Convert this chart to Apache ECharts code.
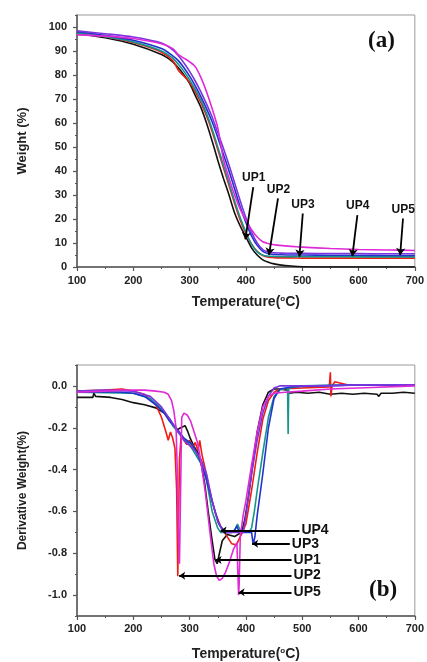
<!DOCTYPE html>
<html>
<head>
<meta charset="utf-8">
<script src="https://cdn.jsdelivr.net/npm/echarts@6/dist/echarts.min.js"></script>
<style>
html, body { margin: 0; padding: 0; background: #fff; }
#main { width: 427px; height: 662px; }
</style>
</head>
<body>
<div id="main"></div>
<script>
// (a) TGA: weight (%) vs temperature
var tgaTemp = [100, 150, 200, 250, 270, 280, 290, 300, 310, 320, 330, 340, 350, 360, 370, 380, 390, 400, 410, 420, 430, 440, 450, 460, 480, 500, 550, 600, 650, 700];
var tgaUP1 = [97.3, 95.5, 92.8, 88.5, 85.5, 83, 80, 76.5, 71.5, 66.5, 60, 52.5, 44.5, 37, 30, 22.5, 17, 12.5, 8, 5, 3, 2, 1.3, 0.9, 0.4, 0.1, 0, 0, 0, 0];
var tgaUP2 = [97.6, 96, 93.5, 89.5, 86, 82, 79.5, 77, 73, 68.5, 63, 56.5, 49, 41.5, 34, 26.5, 19.5, 14, 9.5, 6.5, 4.8, 4.1, 3.9, 3.8, 3.8, 3.7, 3.7, 3.7, 3.7, 3.7];
var tgaUP3 = [98, 96.5, 94.5, 91, 88, 86, 83, 79.5, 75.5, 71, 66, 60.5, 54, 47, 40, 32.5, 25, 18.5, 13, 9, 6.5, 5.5, 5.2, 5.1, 5, 5, 4.9, 4.9, 4.8, 4.8];
var tgaUP4 = [97.5, 96, 93.8, 90, 87, 84.5, 81.5, 78, 74, 69.5, 64, 57.5, 50, 42.5, 35, 27.5, 20.5, 14.5, 9.5, 6.3, 4.9, 4.5, 4.4, 4.3, 4.3, 4.3, 4.3, 4.2, 4.2, 4.2];
var tgaUP5 = [96.7, 96.2, 95.2, 93, 91, 88.5, 87, 85.5, 83.5, 79, 73, 66, 58, 45, 37, 30, 24, 19.5, 15.5, 12.5, 10.5, 9.8, 9.3, 9, 8.6, 8.3, 7.7, 7.3, 7.1, 6.9];
var tgaViolet = [98.4, 97.2, 95.8, 93.3, 90.5, 88, 85, 81.5, 77.5, 73, 68, 62.5, 56, 49.5, 42.5, 35, 27.5, 20.5, 14.5, 10, 7.2, 6.2, 5.9, 5.8, 5.7, 5.7, 5.6, 5.6, 5.5, 5.5];

// (b) DTG: derivative weight vs temperature, [T, value]
var dtgUP1 = [[100,-0.055],[128,-0.055],[130,-0.035],[133,-0.05],[160,-0.055],[180,-0.065],[200,-0.08],[220,-0.09],[240,-0.105],[255,-0.13],[265,-0.16],[272,-0.19],[278,-0.21],[284,-0.2],[292,-0.19],[297,-0.22],[301,-0.25],[308,-0.29],[315,-0.32],[321,-0.38],[327,-0.47],[333,-0.6],[339,-0.72],[345,-0.83],[349,-0.85],[353,-0.8],[358,-0.74],[367,-0.71],[380,-0.72],[392,-0.7],[398,-0.64],[405,-0.52],[412,-0.38],[420,-0.22],[430,-0.09],[440,-0.03],[450,-0.015],[460,-0.015],[474,-0.02],[476,-0.035],[490,-0.03],[510,-0.035],[530,-0.03],[550,-0.04],[570,-0.035],[590,-0.04],[610,-0.035],[633,-0.04],[636,-0.05],[640,-0.035],[660,-0.035],[680,-0.03],[700,-0.035]];
var dtgUP2 = [[100,-0.025],[150,-0.02],[180,-0.015],[200,-0.025],[220,-0.04],[240,-0.09],[250,-0.15],[258,-0.22],[262,-0.26],[266,-0.22],[270,-0.25],[274,-0.3],[277,-0.5],[279,-0.91],[281,-0.91],[282,-0.35],[285,-0.24],[290,-0.26],[295,-0.28],[300,-0.26],[305,-0.3],[310,-0.27],[315,-0.31],[318,-0.26],[322,-0.33],[328,-0.4],[334,-0.48],[340,-0.55],[346,-0.61],[355,-0.67],[364,-0.71],[375,-0.755],[383,-0.76],[392,-0.71],[400,-0.66],[410,-0.5],[420,-0.32],[430,-0.16],[440,-0.07],[450,-0.03],[460,-0.015],[500,-0.01],[548,-0.005],[550,0.065],[551,-0.05],[553,0],[558,0.02],[565,0.015],[580,0.005],[620,0.005],[660,0],[700,0.005]];
var dtgUP3 = [[100,-0.03],[150,-0.028],[180,-0.03],[200,-0.035],[220,-0.05],[240,-0.09],[255,-0.13],[265,-0.17],[276,-0.2],[290,-0.25],[305,-0.28],[318,-0.35],[328,-0.43],[340,-0.55],[352,-0.66],[363,-0.7],[375,-0.7],[380,-0.69],[384,-0.67],[388,-0.7],[400,-0.7],[410,-0.7],[413,-0.76],[416,-0.72],[420,-0.62],[430,-0.42],[440,-0.2],[450,-0.06],[460,-0.015],[480,-0.005],[520,0],[600,0.005],[700,0.005]];
var dtgUP4 = [[100,-0.03],[200,-0.035],[230,-0.06],[250,-0.11],[270,-0.19],[285,-0.24],[300,-0.28],[320,-0.37],[330,-0.45],[340,-0.6],[350,-0.68],[355,-0.7],[370,-0.7],[380,-0.69],[385,-0.66],[390,-0.69],[405,-0.7],[410,-0.68],[415,-0.6],[420,-0.5],[430,-0.32],[440,-0.15],[450,-0.05],[460,-0.02],[474,-0.01],[475,-0.23],[476,-0.01],[500,0],[600,0.005],[700,0.005]];
var dtgUP5 = [[100,-0.03],[150,-0.025],[180,-0.02],[220,-0.02],[240,-0.025],[255,-0.03],[262,-0.04],[268,-0.07],[272,-0.12],[276,-0.2],[278,-0.4],[280,-0.7],[282,-0.85],[284,-0.5],[286,-0.15],[290,-0.13],[296,-0.14],[302,-0.17],[308,-0.22],[314,-0.27],[320,-0.36],[328,-0.51],[337,-0.72],[343,-0.85],[348,-0.91],[353,-0.93],[358,-0.92],[364,-0.89],[371,-0.84],[378,-0.78],[384,-0.75],[386,-0.92],[387,-1.0],[388,-0.95],[390,-0.72],[395,-0.62],[400,-0.55],[410,-0.38],[420,-0.22],[430,-0.1],[440,-0.05],[450,-0.035],[470,-0.03],[500,-0.025],[550,-0.015],[600,-0.01],[650,-0.005],[700,0]];
var dtgViolet = [[100,-0.025],[150,-0.02],[200,-0.025],[230,-0.05],[250,-0.1],[270,-0.18],[290,-0.26],[310,-0.31],[320,-0.35],[330,-0.42],[340,-0.55],[350,-0.65],[360,-0.7],[380,-0.7],[395,-0.7],[400,-0.62],[410,-0.42],[420,-0.26],[430,-0.13],[440,-0.05],[450,-0.01],[460,0],[550,0],[600,0.005],[700,0.005]];

// tick labels
var tgaTicks = [0, 10, 20, 30, 40, 50, 60, 70, 80, 90, 100];
var dtgTicks = [-1.0, -0.8, -0.6, -0.4, -0.2, 0.0];

// annotation arrows: label, tail [T, y], head [T, y]
var tgaNoteNames = ['UP1', 'UP2', 'UP3', 'UP4', 'UP5'];
var tgaNoteFrom = [[413, 33.3], [457, 28.6], [501, 22.3], [598, 21.6], [679, 20.2]];
var tgaNoteTo = [[399, 11.5], [441, 5], [495, 4.3], [589, 4.5], [674, 5]];
var dtgNoteNames = ['UP4', 'UP3', 'UP1', 'UP2', 'UP5'];
var dtgNoteFrom = [[495, -0.691], [478, -0.755], [481, -0.832], [481, -0.907], [481, -0.987]];
var dtgNoteTo = [[355, -0.691], [411, -0.755], [346, -0.832], [281.5, -0.907], [387, -0.987]];

var colors = {
    UP1: '#111111',
    UP2: '#f01c14',
    UP3: '#2233cc',
    UP4: '#16958a',
    UP5: '#e02ad8',
    violet: '#7b35e0'
};

var chart = echarts.init(document.getElementById('main'), null, { renderer: 'canvas' });

var font = 'Liberation Sans, Arial, sans-serif';
var axisColor = '#555';

function xAxisFor(grid, gap, labelMargin) {
    return {
        type: 'value', gridIndex: grid, min: 100, max: 700, interval: 100,
        axisLine: { show: true, onZero: false, lineStyle: { color: axisColor, width: 1.5 } },
        axisTick: { show: true, length: 4, lineStyle: { color: axisColor, width: 1.2 } },
        minorTick: { show: true, splitNumber: 2, length: 2, lineStyle: { color: axisColor } },
        splitLine: { show: false },
        axisLabel: { margin: labelMargin, color: '#222', fontFamily: font, fontWeight: 'bold', fontSize: 11 },
        name: 'Temperature({s|o}C)', nameLocation: 'middle', nameGap: gap,
        nameTextStyle: {
            color: '#222', fontFamily: font, fontWeight: 'bold', fontSize: 14,
            rich: { s: { fontSize: 8, fontWeight: 'bold', fontFamily: font, color: '#222', verticalAlign: 'top', padding: [0, 0, 6, 0] } }
        }
    };
}

function lineSeries(name, data, color, xi, yi, smooth) {
    return {
        name: name, type: 'line', xAxisIndex: xi, yAxisIndex: yi,
        data: data, showSymbol: false, symbol: 'none', smooth: smooth,
        lineStyle: { color: color, width: 1.6 },
        z: 2, silent: true
    };
}

function zip(xs, ys) {
    return xs.map(function (x, i) { return [x, ys[i]]; });
}

function notes(names, from, to) {
    return names.map(function (n, i) {
        return [
            { name: n, coord: from[i] },
            { coord: to[i] }
        ];
    });
}

var tgaSeries = lineSeries('UP1', zip(tgaTemp, tgaUP1), colors.UP1, 0, 0, 0.3);
tgaSeries.markLine = {
    silent: true, symbol: ['none', 'arrow'], symbolSize: 7, animation: false,
    lineStyle: { color: '#000', width: 1.8, type: 'solid' },
    label: { show: true, position: 'start', distance: 3, formatter: '{b}', color: '#111', fontFamily: font, fontWeight: 'bold', fontSize: 12 },
    data: notes(tgaNoteNames, tgaNoteFrom, tgaNoteTo)
};

var dtgSeries = lineSeries('UP1', dtgUP1, colors.UP1, 1, 2, false);
dtgSeries.markLine = {
    silent: true, symbol: ['none', 'arrow'], symbolSize: 6, animation: false,
    lineStyle: { color: '#000', width: 1.8, type: 'solid' },
    label: { show: true, position: 'start', distance: 2, formatter: '{b}', color: '#111', fontFamily: font, fontWeight: 'bold', fontSize: 14 },
    data: notes(dtgNoteNames, dtgNoteFrom, dtgNoteTo)
};

var option = {
    animation: false,
    backgroundColor: '#fff',
    grid: [
        { left: 77, right: 9, top: 15, height: 252, show: true, borderColor: '#999', borderWidth: 1, containLabel: false },
        { left: 77, right: 9, top: 365, height: 251, show: true, borderColor: '#999', borderWidth: 1, containLabel: false }
    ],
    xAxis: [xAxisFor(0, 28, 8), xAxisFor(1, 31, 7)],
    yAxis: [
        {
            type: 'value', gridIndex: 0, position: 'left', min: 0, max: 105, interval: 10,
            axisLine: { show: true, lineStyle: { color: axisColor, width: 1.5 } },
            axisTick: { show: true, length: 4, customValues: tgaTicks, lineStyle: { color: axisColor, width: 1.2 } },
            splitLine: { show: false },
            axisLabel: { margin: 10, customValues: tgaTicks, color: '#222', fontFamily: font, fontWeight: 'bold', fontSize: 11 },
            name: 'Weight (%)', nameLocation: 'middle', nameGap: 48,
            nameTextStyle: { color: '#222', fontFamily: font, fontWeight: 'bold', fontSize: 13 }
        },
        {
            type: 'value', gridIndex: 0, position: 'left', offset: 0, min: 0, max: 105, interval: 5,
            axisLine: { show: false },
            axisTick: { show: true, length: 2, lineStyle: { color: axisColor } },
            axisLabel: { show: false }, splitLine: { show: false }
        },
        {
            type: 'value', gridIndex: 1, position: 'left', min: -1.1, max: 0.1, interval: 0.2,
            axisLine: { show: true, onZero: false, lineStyle: { color: axisColor, width: 1.5 } },
            axisTick: { show: true, length: 4, customValues: dtgTicks, lineStyle: { color: axisColor, width: 1.2 } },
            splitLine: { show: false },
            axisLabel: {
                margin: 10, customValues: dtgTicks, color: '#222', fontFamily: font, fontWeight: 'bold', fontSize: 11,
                formatter: function (v) { return (Math.abs(v) < 1e-9 ? 0 : v).toFixed(1); }
            },
            name: 'Derivative Weight(%)', nameLocation: 'middle', nameGap: 48,
            nameTextStyle: { color: '#222', fontFamily: font, fontWeight: 'bold', fontSize: 12 }
        },
        {
            type: 'value', gridIndex: 1, position: 'left', offset: 0, min: -1.1, max: 0.1, interval: 0.1,
            axisLine: { show: false },
            axisTick: { show: true, length: 2, lineStyle: { color: axisColor } },
            axisLabel: { show: false }, splitLine: { show: false }
        }
    ],
    series: [
        tgaSeries,
        lineSeries('UP2', zip(tgaTemp, tgaUP2), colors.UP2, 0, 0, 0.3),
        lineSeries('UP4', zip(tgaTemp, tgaUP4), colors.UP4, 0, 0, 0.3),
        lineSeries('UP3', zip(tgaTemp, tgaUP3), colors.UP3, 0, 0, 0.3),
        lineSeries('violet', zip(tgaTemp, tgaViolet), colors.violet, 0, 0, 0.3),
        lineSeries('UP5', zip(tgaTemp, tgaUP5), colors.UP5, 0, 0, 0.3),

        dtgSeries,
        lineSeries('UP2', dtgUP2, colors.UP2, 1, 2, false),
        lineSeries('UP4', dtgUP4, colors.UP4, 1, 2, false),
        lineSeries('UP3', dtgUP3, colors.UP3, 1, 2, false),
        lineSeries('violet', dtgViolet, colors.violet, 1, 2, false),
        lineSeries('UP5', dtgUP5, colors.UP5, 1, 2, false)
    ],
    graphic: [
        { type: 'text', left: 368, top: 30, style: { text: '(a)', fontFamily: 'Liberation Serif, Times New Roman, serif', fontWeight: 'bold', fontSize: 23, fill: '#111' } },
        { type: 'text', left: 369, top: 579, style: { text: '(b)', fontFamily: 'Liberation Serif, Times New Roman, serif', fontWeight: 'bold', fontSize: 23, fill: '#111' } }
    ]
};

chart.setOption(option);
</script>
</body>
</html>
